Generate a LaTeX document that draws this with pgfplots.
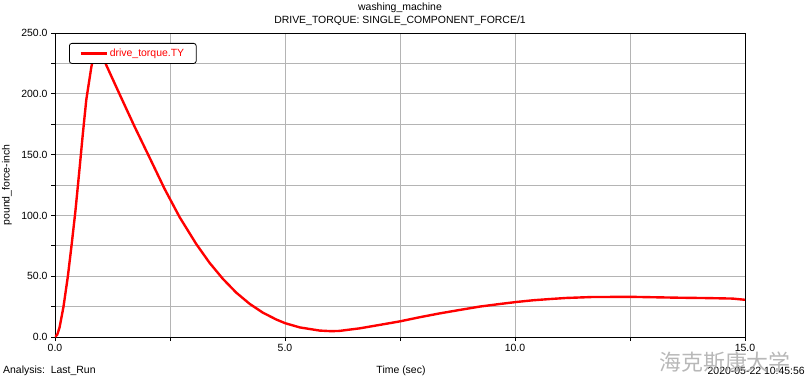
\documentclass[border=0pt]{standalone}
\usepackage{pgfplots}
\pgfplotsset{compat=1.18}
\usepackage{fontspec}
\setmainfont{Liberation Sans}
\newfontfamily\cjk{Noto Sans CJK SC}
\definecolor{gridgray}{RGB}{180,180,180}
\begin{document}
\begin{tikzpicture}[x=1bp,y=1bp]
\useasboundingbox (-55,-47) rectangle (754,337);
\begin{axis}[
  at={(0,0)}, anchor=origin,
  scale only axis, width=690bp, height=304bp,
  xmin=0, xmax=15, ymin=0, ymax=250,
  xtick={0,5,10,15}, minor xtick={2.5,7.5,12.5},
  ytick={0,50,...,250}, minor ytick={25,75,...,225},
  grid=both,
  major grid style={gridgray, line width=0.8pt},
  minor grid style={gridgray, line width=0.8pt},
  xtick pos=bottom, ytick pos=left,
  tick align=outside,
  major tick length=4bp, minor tick length=4bp,
  tick style={black, line width=0.8pt},
  axis line style={black, line width=1pt},
  /pgf/number format/.cd, fixed, fixed zerofill, precision=1, assume math mode=true,
  /pgfplots/.cd,
  ticklabel style={font=\fontsize{10.5}{12}\selectfont},
  legend style={at={(14bp,294bp)}, anchor=north west, rounded corners=2.5pt,
    draw=black, line width=0.8pt, fill=white, font=\fontsize{10.5}{12}\selectfont, text=red,
    inner xsep=10bp, inner ysep=3.5bp, legend cell align=left,
    /tikz/every even column/.append style={column sep=3bp}},
  legend image code/.code={\draw[#1] (0bp,0bp) -- (26bp,0bp);},
]
\addplot[red, line width=2.4pt] coordinates {
(0,0) (0.05,2) (0.1,8) (0.185,25) (0.28,50) (0.365,77) (0.445,104) (0.53,137)
(0.605,167) (0.68,195) (0.79,222) (0.86,234) (0.92,238) (0.98,236) (1.11,224)
(1.40,200) (1.73,173) (2.05,148) (2.38,122) (2.71,98.5) (3.07,76.5) (3.36,61)
(3.65,47.8) (3.94,36.5) (4.23,27.3) (4.52,20) (4.81,14.4) (5.0,11.4) (5.32,7.9)
(5.75,5.3) (6.0,4.8) (6.18,5) (6.62,7.1) (7.05,9.9) (7.49,12.8) (7.92,16.2)
(8.36,19.4) (8.79,22.2) (9.23,25) (9.66,27.1) (10.03,28.8) (10.39,30.2)
(10.75,31.2) (11.11,32.1) (11.69,32.9) (12.56,33) (13.58,32.3) (14.2,32)
(14.73,31.6) (15,30.6)
};
\addlegendentry{drive\_torque.TY}
\end{axis}
\begin{scope}[font=\fontsize{10.5}{12}\selectfont]
\node at (345,329) {washing\_machine};
\node at (345,316) {DRIVE\_TORQUE: SINGLE\_COMPONENT\_FORCE/1};
\node[rotate=90] at (-48,152) {pound\_force-inch};
\node[anchor=west, inner sep=0] at (-52,-34) {Analysis:\ \ Last\_Run};
\node at (346,-34) {Time (sec)};
\node[anchor=east, inner sep=0] at (750,-34) {2020-05-22 10:45:56};
\end{scope}
\node[text=gray!70, opacity=0.8, font=\cjk\fontsize{22}{24}\selectfont] at (670,-25) {海克斯康大学};
\end{tikzpicture}
\end{document}
